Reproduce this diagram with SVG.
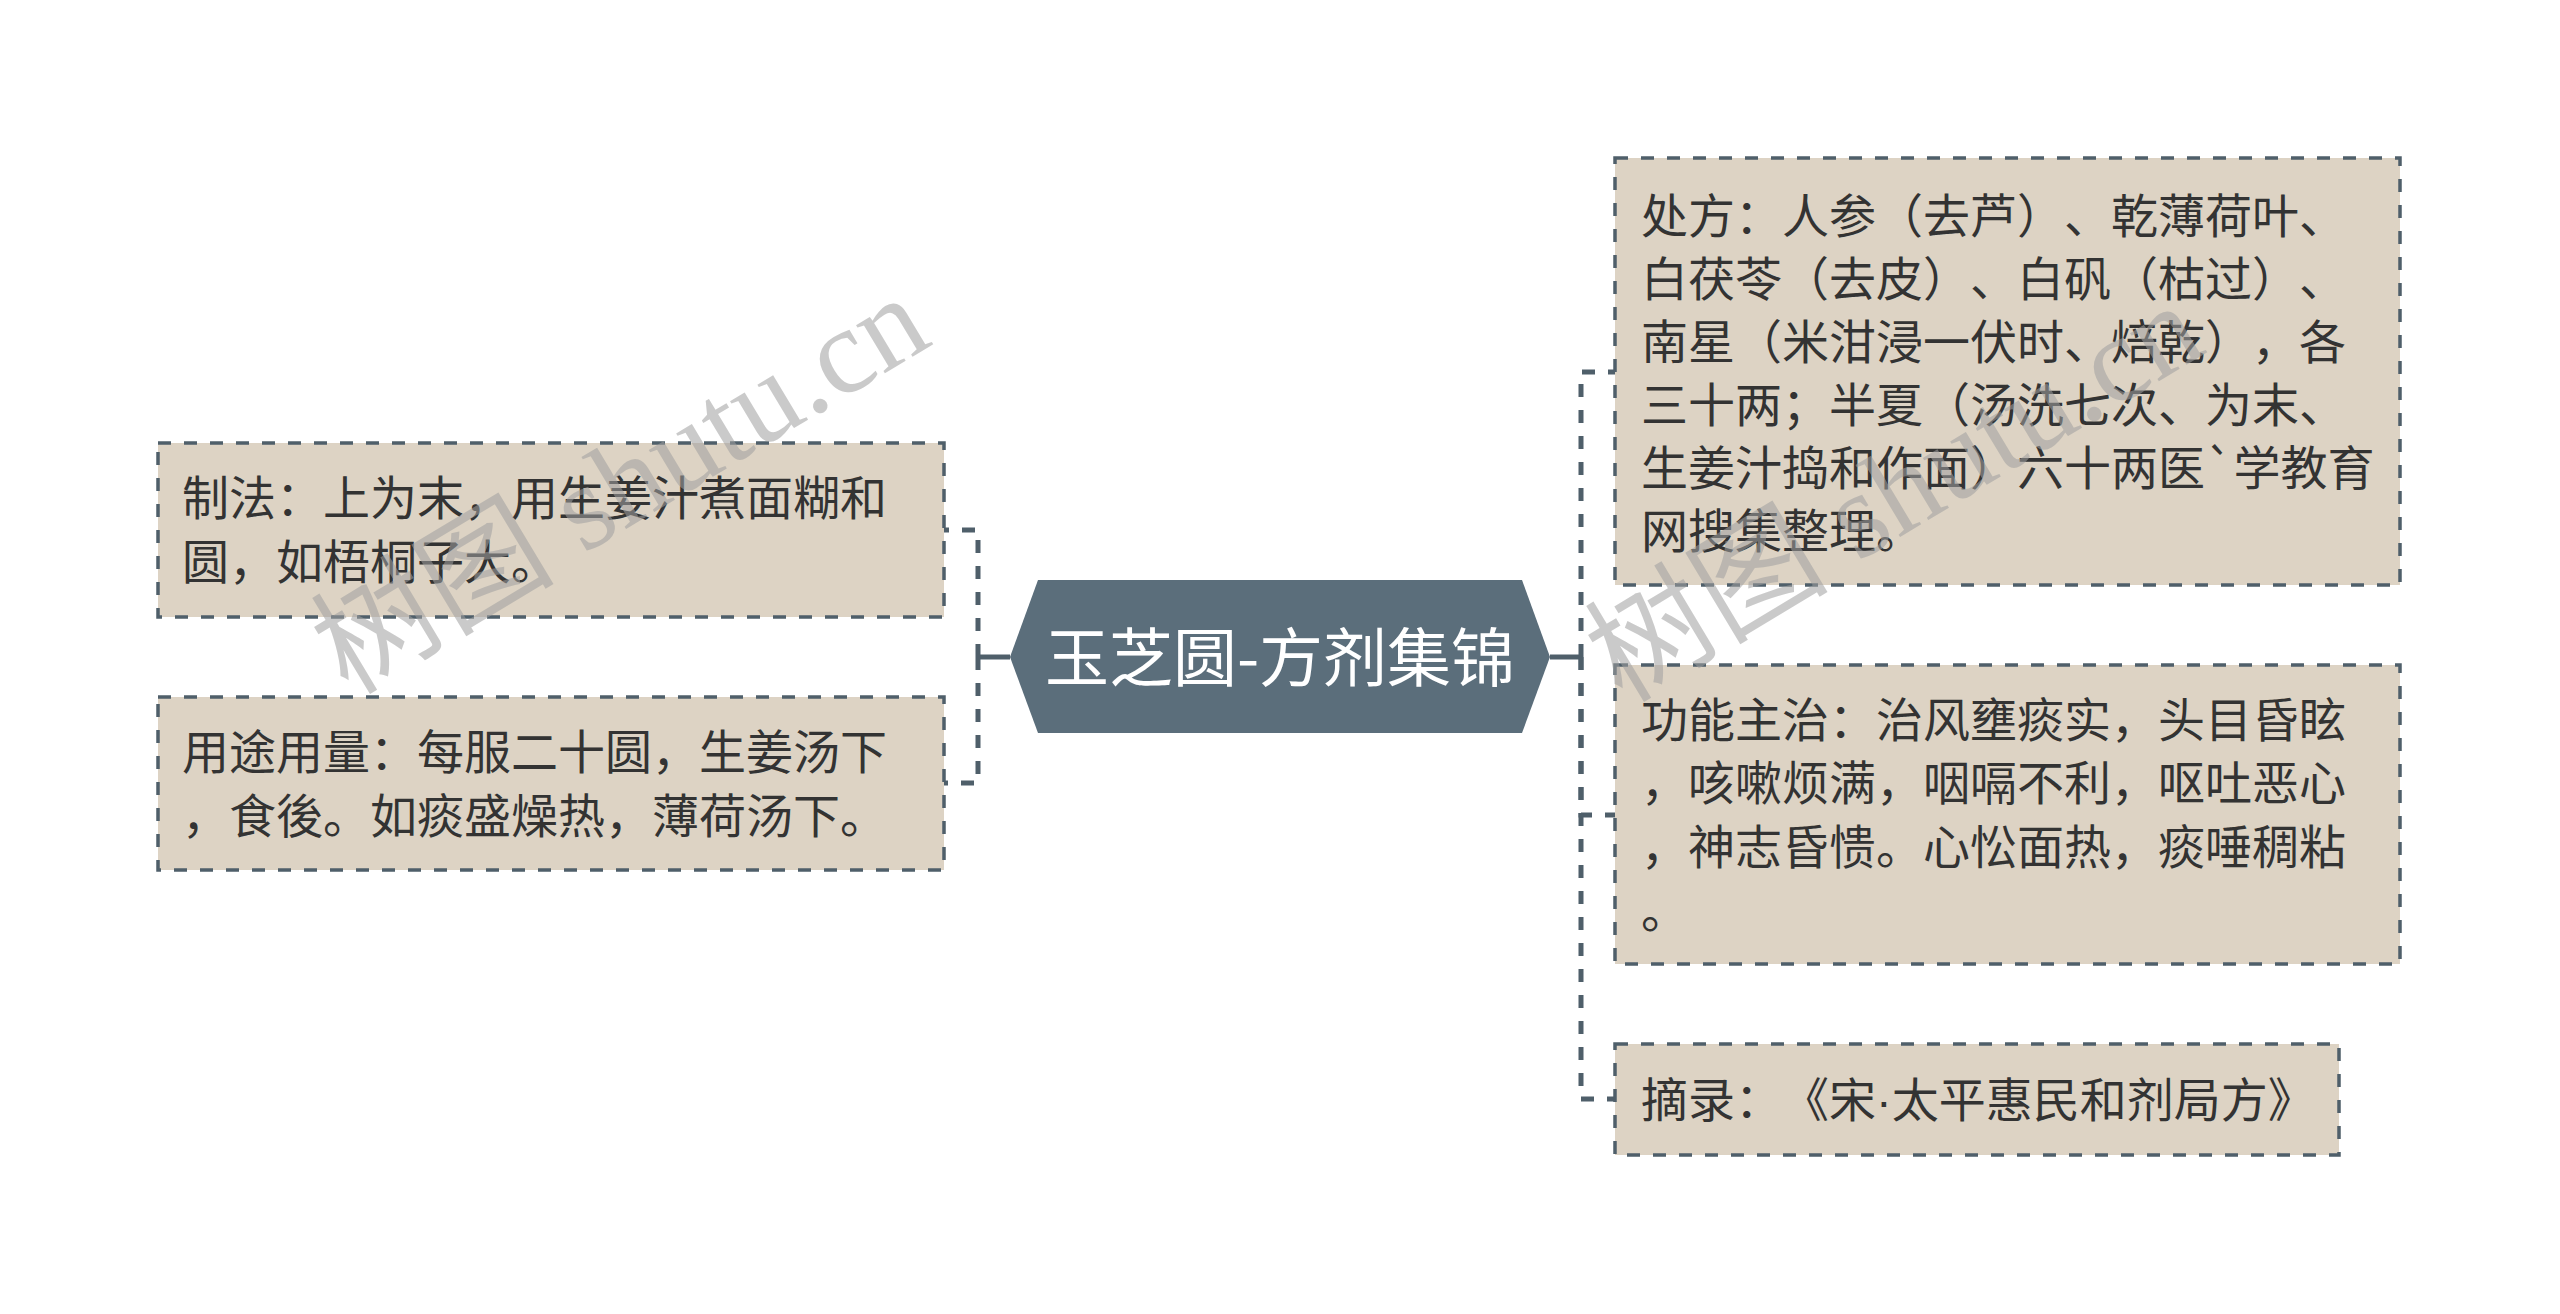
<svg xmlns="http://www.w3.org/2000/svg" width="2560" height="1314" viewBox="0 0 2560 1314">
<style>
.box{fill:#ddd3c4;stroke:#4f5f6a;stroke-width:3.5;stroke-dasharray:13 13}
.t{font-family:"Noto Sans CJK SC","Noto Sans",sans-serif;font-size:47px;fill:#333333;text-spacing-trim:space-all}
.c{fill:none;stroke:#4f5f6a;stroke-width:5}
.d{stroke-dasharray:13 13}
.wm{font-family:"Liberation Serif","Noto Sans CJK SC",serif;font-size:122px;fill:#a0a0a0;opacity:0.55}
</style>
<rect width="2560" height="1314" fill="#ffffff"/>
<g id="connectors">
<path class="c" d="M1010,657 H978"/>
<path class="c d" d="M978,657 V530 H944"/>
<path class="c d" d="M978,657 V783 H944"/>
<path class="c" d="M1550,657 H1581"/>
<path class="c d" d="M1581,657 V372 H1615"/>
<path class="c d" d="M1581,657 V815 H1615"/>
<path class="c d" d="M1581,657 V1099 H1615"/>
</g>
<g id="root">
<polygon points="1010,657 1038,580 1522,580 1550,657 1522,733 1038,733" fill="#5b6e7b"/>
<text x="1280" y="681" text-anchor="middle" font-family="Noto Sans CJK SC, Noto Sans, sans-serif" font-size="64" fill="#ffffff">玉芝圆-方剂集锦</text>
</g>
<g id="node-zhifa">
<rect class="box" x="158" y="443" width="786" height="174"/>
<text class="t" x="182" y="515">制法：上为末，用生姜汁煮面糊和</text>
<text class="t" x="182" y="579">圆，如梧桐子大。</text>
</g>
<g id="node-yongtu">
<rect class="box" x="158" y="697" width="786" height="173"/>
<text class="t" x="182" y="769">用途用量：每服二十圆，生姜汤下</text>
<text class="t" x="182" y="833">，食後。如痰盛燥热，薄荷汤下。</text>
</g>
<g id="node-chufang">
<rect class="box" x="1615" y="158" width="785" height="427"/>
<text class="t" x="1641" y="233">处方：人参（去芦）、乾薄荷叶、</text>
<text class="t" x="1641" y="296">白茯苓（去皮）、白矾（枯过）、</text>
<text class="t" x="1641" y="359">南星（米泔浸一伏时、焙乾），各</text>
<text class="t" x="1641" y="422">三十两；半夏（汤洗七次、为末、</text>
<text class="t" x="1641" y="485">生姜汁捣和作面）六十两医`学教育</text>
<text class="t" x="1641" y="548">网搜集整理。</text>
</g>
<g id="node-gongneng">
<rect class="box" x="1615" y="665" width="785" height="299"/>
<text class="t" x="1641" y="737">功能主治：治风壅痰实，头目昏眩</text>
<text class="t" x="1641" y="800">，咳嗽烦满，咽嗝不利，呕吐恶心</text>
<text class="t" x="1641" y="864">，神志昏愦。心忪面热，痰唾稠粘</text>
<text class="t" x="1641" y="928">。</text>
</g>
<g id="node-zhailu">
<rect class="box" x="1615" y="1044" width="724" height="111"/>
<text class="t" x="1641" y="1117">摘录：《宋<tspan font-family="Liberation Sans, sans-serif">·</tspan>太平惠民和剂局方》</text>
</g>
<g id="watermark">
<text class="wm" transform="translate(348,696) rotate(-31)">树图 shutu.cn</text>
<text class="wm" transform="translate(1622,704) rotate(-31)">树图 shutu.cn</text>
</g>
</svg>
